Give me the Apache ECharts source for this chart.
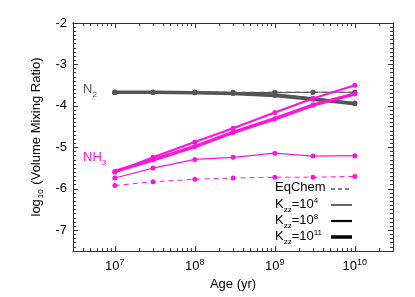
<!DOCTYPE html>
<html lang="en">
<head>
  <meta charset="UTF-8">
  <title>NH3 / N2 vs age</title>
  <style>
    html, body { margin: 0; padding: 0; background: #fff; }
  </style>
</head>
<body>
  <div id="chart" style="width: 415px; height: 297px;"></div>
  <script src="https://cdn.jsdelivr.net/npm/echarts@6/dist/echarts.min.js"></script>
  <script>
    // Data, ages in years
    const ages = [1e7, 3e7, 1e8, 3e8, 1e9, 3e9, 1e10];

    const n2EqChem = [-3.67, -3.67, -3.67, -3.67, -3.67, -3.67, -3.67];
    const n2Kzz4 = [-3.67, -3.67, -3.67, -3.68, -3.68, -3.67, -3.67];
    const n2Kzz8 = [-3.67, -3.67, -3.67, -3.69, -3.72, -3.82, -3.93];
    const n2Kzz11 = [-3.67, -3.67, -3.68, -3.70, -3.75, -3.84, -3.95];

    const nh3EqChem = [-5.92, -5.83, -5.77, -5.74, -5.72, -5.72, -5.70];
    const nh3Kzz4 = [-5.74, -5.50, -5.29, -5.24, -5.14, -5.21, -5.20];
    const nh3Kzz8 = [-5.60, -5.24, -4.87, -4.54, -4.16, -3.82, -3.50];
    const nh3Kzz11 = [-5.58, -5.30, -4.98, -4.64, -4.31, -3.98, -3.71];

    const xMajorTicks = [7, 8, 9, 10];      // decades
    const yMajorTicks = [-7, -6, -5, -4, -3, -2];

    const FONT = "'Liberation Sans', Arial, sans-serif";
    const GRAY = '#555555';
    const MAGENTA = '#ff14dc';
    const FRAME = '#333333';

    const xMin = Math.log10(3e6);
    const xMax = Math.log10(3e10);
    const yMin = -7.5;
    const yMax = -2;

    // minor tick positions
    const xMinorTicks = [];
    for (let n = 6; n <= 10; n++) {
      for (let k = 2; k <= 9; k++) {
        const v = Math.log10(k * Math.pow(10, n));
        if (v >= xMin && v <= xMax) xMinorTicks.push(v);
      }
    }
    const yMinorTicks = [];
    for (let i = -75; i <= -20; i++) {
      if (i % 10 !== 0) yMinorTicks.push(i / 10);
    }

    const chart = echarts.init(document.getElementById('chart'), null, { renderer: 'canvas' });

    const pts = vals => ages.map((a, i) => [Math.log10(a), vals[i]]);

    const mkSeries = (vals, color, width, dashed) => ({
      type: 'line',
      data: pts(vals),
      xAxisIndex: 0,
      yAxisIndex: 0,
      symbol: 'circle',
      symbolSize: 5,
      itemStyle: { color: color },
      lineStyle: { color: color, width: width, type: dashed ? [5, 4] : 'solid' },
      silent: true,
      animation: false,
      z: 3
    });

    const xAxisBase = (pos, ticks, len, labels) => ({
      type: 'value',
      position: pos,
      min: xMin,
      max: xMax,
      axisLine: { show: true, onZero: false, lineStyle: { color: FRAME, width: 1 } },
      axisTick: { show: true, inside: true, length: len, customValues: ticks, lineStyle: { color: FRAME } },
      axisLabel: labels ? {
        show: true,
        customValues: ticks,
        margin: 7,
        formatter: v => '{b|10}{s|' + Math.round(v) + '}',
        rich: {
          b: { fontSize: 13, fontFamily: FONT, color: '#000', verticalAlign: 'bottom' },
          s: { fontSize: 9, fontFamily: FONT, color: '#000', verticalAlign: 'bottom', padding: [0, 0, 6, 0] }
        }
      } : { show: false },
      splitLine: { show: false }
    });

    const yAxisBase = (pos, ticks, len, labels) => ({
      type: 'value',
      position: pos,
      min: yMin,
      max: yMax,
      axisLine: { show: true, onZero: false, lineStyle: { color: FRAME, width: 1 } },
      axisTick: { show: true, inside: true, length: len, customValues: ticks, lineStyle: { color: FRAME } },
      axisLabel: labels ? {
        show: true,
        customValues: ticks,
        margin: 6,
        fontSize: 13,
        fontFamily: FONT,
        color: '#000',
        formatter: v => String(Math.round(v))
      } : { show: false },
      splitLine: { show: false }
    });

    const xAxes = [
      Object.assign(xAxisBase('bottom', xMajorTicks, 5, true), {
        name: 'Age (yr)',
        nameLocation: 'middle',
        nameGap: 27,
        nameTextStyle: { fontSize: 13, fontFamily: FONT, color: '#000' }
      }),
      xAxisBase('bottom', xMinorTicks, 3, false),
      xAxisBase('top', xMajorTicks, 5, false),
      xAxisBase('top', xMinorTicks, 3, false)
    ];

    const yAxes = [
      Object.assign(yAxisBase('left', yMajorTicks, 5, true), {
        name: '{a|log}{s|10}{a| (Volume Mixing Ratio)}',
        nameLocation: 'middle',
        nameGap: 23,
        nameRotate: 90,
        nameTextStyle: {
          rich: {
            a: { fontSize: 13, fontFamily: FONT, color: '#000', verticalAlign: 'bottom' },
            s: { fontSize: 8, fontFamily: FONT, color: '#000', verticalAlign: 'bottom', padding: [0, 1, -2, 1] }
          }
        }
      }),
      yAxisBase('left', yMinorTicks, 3, false),
      yAxisBase('right', yMajorTicks, 5, false),
      yAxisBase('right', yMinorTicks, 3, false)
    ];

    // legend drawn as graphic (black lines, custom widths)
    const legendRows = [
      { text: 'EqChem', width: 1, dashed: true },
      { text: '{t|K}{sub|zz}{t|=10}{sup|4}', width: 1.2 },
      { text: '{t|K}{sub|zz}{t|=10}{sup|8}', width: 2.2 },
      { text: '{t|K}{sub|zz}{t|=10}{sup|11}', width: 3.5 }
    ];
    const legendRich = {
      t: { fontSize: 13, fontFamily: FONT, color: '#000', verticalAlign: 'bottom' },
      sub: { fontSize: 8, fontFamily: FONT, color: '#000', verticalAlign: 'bottom', padding: [0, 0, -3, 0] },
      sup: { fontSize: 8, fontFamily: FONT, color: '#000', verticalAlign: 'bottom', padding: [0, 0, 6, 0] }
    };
    const legendGraphics = [];
    legendRows.forEach((row, i) => {
      const y = 189 + i * 16;
      legendGraphics.push({
        type: 'text',
        left: 275,
        top: y - 8,
        style: {
          text: row.text,
          rich: legendRich,
          fontSize: 13,
          fontFamily: FONT,
          fill: '#000'
        },
        silent: true
      });
      legendGraphics.push({
        type: 'line',
        shape: { x1: 331, y1: y, x2: 352, y2: y },
        style: { stroke: '#000', lineWidth: row.width, lineDash: row.dashed ? [4, 3] : null },
        silent: true
      });
    });

    const option = {
      animation: false,
      backgroundColor: '#fff',
      grid: { left: 73, right: 22, top: 23, bottom: 46, containLabel: false },
      xAxis: xAxes,
      yAxis: yAxes,
      series: [
        mkSeries(n2EqChem, GRAY, 1, true),
        mkSeries(n2Kzz4, GRAY, 1.2, false),
        mkSeries(n2Kzz8, GRAY, 2.2, false),
        mkSeries(n2Kzz11, GRAY, 3.5, false),
        mkSeries(nh3EqChem, MAGENTA, 1, true),
        mkSeries(nh3Kzz4, MAGENTA, 1.2, false),
        mkSeries(nh3Kzz8, MAGENTA, 2.2, false),
        mkSeries(nh3Kzz11, MAGENTA, 3.5, false)
      ],
      graphic: [
        {
          type: 'text',
          left: 83,
          top: 83,
          style: {
            text: '{m|N}{s|2}',
            rich: {
              m: { fontSize: 13, fontFamily: FONT, fill: GRAY, color: GRAY, verticalAlign: 'bottom' },
              s: { fontSize: 8, fontFamily: FONT, fill: GRAY, color: GRAY, verticalAlign: 'bottom', padding: [0, 0, -3, 0] }
            }
          },
          silent: true
        },
        {
          type: 'text',
          left: 83,
          top: 151,
          style: {
            text: '{m|NH}{s|3}',
            rich: {
              m: { fontSize: 13, fontFamily: FONT, fill: MAGENTA, color: MAGENTA, verticalAlign: 'bottom' },
              s: { fontSize: 8, fontFamily: FONT, fill: MAGENTA, color: MAGENTA, verticalAlign: 'bottom', padding: [0, 0, -3, 0] }
            }
          },
          silent: true
        }
      ].concat(legendGraphics)
    };

    chart.setOption(option);
  </script>
</body>
</html>
